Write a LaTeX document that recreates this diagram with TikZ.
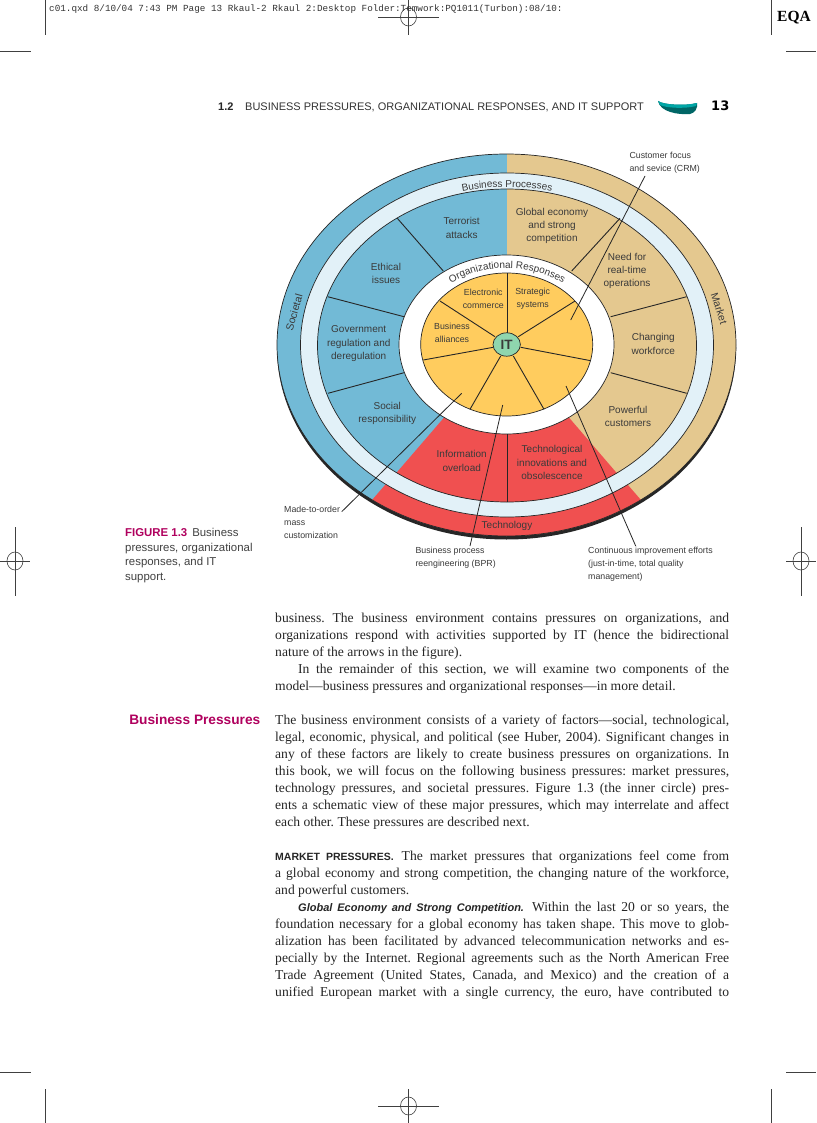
\documentclass[tikz,border=0pt]{standalone}
\usepackage{fontspec}
\setmainfont{Liberation Serif}
\setsansfont{Liberation Sans}
\setmonofont{Liberation Mono}
\newfontfamily\widefont{DejaVu Sans}
\usetikzlibrary{decorations.text,shapes.geometric}
\definecolor{cblue}{HTML}{72BAD6}
\definecolor{ctan}{HTML}{E4C88F}
\definecolor{cred}{HTML}{F05050}
\definecolor{cyel}{HTML}{FFCC5E}
\definecolor{cband}{HTML}{E2F1F8}
\definecolor{cgreen}{HTML}{8FD6AE}
\definecolor{cmag}{HTML}{B0005E}
\definecolor{ctxt}{HTML}{3A3A3A}
\definecolor{cbody}{HTML}{262626}
\newcommand{\jl}[1]{\hbox to 454pt{\frenchspacing\spaceskip=0pt\relax\xspaceskip=0pt\relax\vrule height 12pt depth 0pt width 0pt #1}\par}
\newcommand{\lastl}[1]{\hbox{\frenchspacing\spaceskip=0pt\relax\xspaceskip=0pt\relax\vrule height 12pt depth 0pt width 0pt #1}\par}
\newcommand{\regmark}[6]{% x y hx0 hx1 vy0 vy1
  \draw[regline] (#3,#2) -- (#4,#2);
  \draw[regline] (#1,#5) -- (#1,#6);
  \draw[regline] (#1,#2) ellipse [x radius=8, y radius=9];}
\tikzset{
  regline/.style={line width=0.6pt, color=black!75},
  edge/.style={line width=0.7pt, color=black!85},
  spoke/.style={line width=0.9pt, color=black!85},
  leader/.style={line width=0.8pt, color=black!85},
  seclabel/.style={font=\sffamily\fontsize{10}{13.3}\selectfont, text=ctxt, align=center, inner sep=0, yshift=-1pt},
  innerlabel/.style={font=\sffamily\fontsize{8.8}{13}\selectfont, text=ctxt, align=center, inner sep=0},
  leaderlabel/.style={font=\sffamily\fontsize{8.8}{13}\selectfont, text=ctxt, align=left, anchor=west, inner sep=0, yshift=-0.5pt},
  bodytext/.style={font=\rmfamily\fontsize{13.6}{17}\selectfont, text=cbody, anchor=north west, inner sep=0, text width=454pt},
}
\begin{document}
\begin{tikzpicture}[x=1pt,y=-1pt]
\useasboundingbox (0,0) rectangle (816,1123);
\fill[white] (0,0) rectangle (816,1123);
% crop marks
\regmark{408.5}{17}{378}{439}{0}{35}
\regmark{408.5}{1106}{378}{439}{1089}{1123}
\regmark{15}{561}{0}{30}{527}{596}
\regmark{801}{561}{786}{816}{527}{596}
\draw[regline] (45,0) -- (45,35);
\draw[regline] (771,0) -- (771,35);
\draw[regline] (45,1089) -- (45,1123);
\draw[regline] (771,1089) -- (771,1123);
\draw[regline] (0,51.5) -- (31,51.5);
\draw[regline] (786,51.5) -- (816,51.5);
\draw[regline] (0,1072) -- (31,1072);
\draw[regline] (786,1072) -- (816,1072);
% slug line
\node[anchor=base west, inner sep=0, font=\ttfamily\fontsize{9.3}{11}\selectfont, text=black!80] (slug) at (49,12) {c01.qxd 8/10/04 7:43 PM Page 13 Rkaul-2 Rkaul 2:Desktop Folder:Temwork:PQ1011(Turbon):08/10:};
\node[anchor=base west, inner sep=0, font=\rmfamily\bfseries\fontsize{15.5}{18}\selectfont, text=black] (eqa) at (777,22) {EQA};
% running head
\node[anchor=base west, inner sep=0, font=\sffamily\bfseries\fontsize{11}{13}\selectfont, text=black!85] (hnum) at (218,110.5) {1.2};
\node[anchor=base west, inner sep=0, font=\sffamily\fontsize{11}{13}\selectfont, text=black!80] (hhead) at (245,110.5) {BUSINESS PRESSURES, ORGANIZATIONAL RESPONSES, AND IT SUPPORT};
\fill[teal!80!black] (658,101) .. controls (664,105) and (685,106) .. (697,103) .. controls (698,108) and (695,113) .. (690,114) .. controls (678,115) and (660,112) .. (658,101) -- cycle;
\fill[teal!70!cyan] (658,101) .. controls (664,105) and (685,106) .. (697,103) -- (696,106) .. controls (685,109) and (666,108) .. (660,105) -- cycle;
\node[anchor=base west, inner sep=0, font=\widefont\bfseries\fontsize{13}{14}\selectfont, text=black] (hpage) at (711,110.5) {13};
% ---------- wheel
\fill[black!85] (506.5,348) ellipse [x radius=229.5, y radius=191.5];
\begin{scope}
  \clip (506.5,345) ellipse [x radius=229.5, y radius=191];
  \fill[cblue] (270,140) rectangle (507,560);
  \fill[ctan] (507,140) rectangle (745,560);
  \fill[cred] (506.5,345) -- (300,583) -- (713,583) -- cycle;
\end{scope}
\draw[edge] (506.5,345) ellipse [x radius=229.5, y radius=191];
\fill[cband] (507,345) ellipse [x radius=206.5, y radius=172];
\draw[edge] (507,345) ellipse [x radius=206.5, y radius=172];
\begin{scope}
  \clip (507,345.5) ellipse [x radius=189.5, y radius=156.5];
  \fill[cblue] (300,170) rectangle (507,520);
  \fill[ctan] (507,170) rectangle (710,520);
  \fill[cred] (506.5,345) -- (330,550) -- (683,550) -- cycle;
\end{scope}
\draw[edge] (507,345.5) ellipse [x radius=189.5, y radius=156.5];
\draw[spoke] (397.3,218.3) -- (443.3,271);
\draw[spoke] (327.7,296.7) -- (404,316.7);
\draw[spoke] (328,393.3) -- (404,372.7);
\draw[spoke] (620,218.3) -- (571.7,271);
\draw[spoke] (686.7,296.7) -- (610.7,316.7);
\draw[spoke] (686.7,393.3) -- (610.7,372.7);
\draw[spoke] (507,434) -- (507,502);
\fill[white] (506.5,344.5) ellipse [x radius=107.5, y radius=89.5];
\draw[edge] (506.5,344.5) ellipse [x radius=107.5, y radius=89.5];
\fill[cyel] (506.7,344.5) ellipse [x radius=86, y radius=71.5];
\draw[edge] (506.7,344.5) ellipse [x radius=86, y radius=71.5];
\draw[spoke] (507,273) -- (507,340);
\draw[spoke] (440,301) -- (495,336.7);
\draw[spoke] (575,301) -- (518.3,336.7);
\draw[spoke] (423.3,360) -- (493.3,347.3);
\draw[spoke] (590.7,360.7) -- (520.7,347.3);
\draw[spoke] (470,409.3) -- (500.7,356);
\draw[spoke] (544,409.3) -- (513.3,356);
\node[draw=black!85, line width=0.7pt, fill=cgreen, ellipse, minimum width=27.4pt, minimum height=23.4pt, inner sep=0, font=\sffamily\bfseries\fontsize{13.5}{14}\selectfont, text=ctxt] (it) at (506.7,344.5) {IT};
% leaders
\coordinate (crmA) at (645,176);
\coordinate (crmB) at (570.7,320);
\coordinate (mtoA) at (341.7,511.7);
\coordinate (mtoB) at (461.7,393.3);
\coordinate (bprA) at (470,546);
\coordinate (bprB) at (502.7,405);
\coordinate (ciA) at (635.7,546);
\coordinate (ciB) at (566,386);
\draw[leader] (crmA) -- (crmB);
\draw[leader] (mtoA) -- (mtoB);
\draw[leader] (bprA) -- (bprB);
\draw[leader] (ciA) -- (ciB);
% curved titles
\path[decorate, decoration={text along path, text align=center, text={|\sffamily\fontsize{10}{12}\selectfont\color{ctxt}|Business Processes}}]
  plot[domain=108:72, samples=30] ({507+193*cos(\x)},{345-158*sin(\x)});
\path[decorate, decoration={text along path, text align=center, text={|\sffamily\fontsize{10}{12}\selectfont\color{ctxt}|Organizational Responses}}]
  plot[domain=135:45, samples=40] ({507+93.5*cos(\x)},{344.5-76.5*sin(\x)});
\node[seclabel, font=\sffamily\fontsize{10.5}{13}\selectfont, rotate=74, yshift=1pt] (soc) at (295,311.7) {Societal};
\node[seclabel, font=\sffamily\fontsize{10.5}{13}\selectfont, rotate=-72, yshift=1pt] (mkt) at (718.3,308) {Market};
\node[seclabel] (tech) at (507,524.5) {Technology};
% sector labels
\node[seclabel] (terr) at (461.7,227) {Terrorist\\attacks};
\node[seclabel] (eth) at (386,272.7) {Ethical\\issues};
\node[seclabel] (gov) at (358.7,342.7) {Government\\regulation and\\deregulation};
\node[seclabel] (socr) at (387.3,412.7) {Social\\responsibility};
\node[seclabel] (glob) at (552,225) {Global economy\\and strong\\competition};
\node[seclabel] (need) at (627,270) {Need for\\real-time\\operations};
\node[seclabel] (chg) at (653.3,343) {Changing\\workforce};
\node[seclabel] (pow) at (628,415.3) {Powerful\\customers};
\node[seclabel] (info) at (461.7,460) {Information\\overload};
\node[seclabel] (techi) at (552,461.7) {Technological\\innovations and\\obsolescence};
\node[innerlabel] (ec) at (483.3,298.7) {Electronic\\commerce};
\node[innerlabel] (ss) at (532.7,299) {Strategic\\systems};
\node[innerlabel] (ba) at (452,332.7) {Business\\alliances};
% leader labels
\node[leaderlabel] (crm) at (629.3,162.5) {Customer focus\\and sevice (CRM)};
\node[leaderlabel] (mto) at (284,522) {Made-to-order\\mass\\customization};
\node[leaderlabel] (bpr) at (415.3,557.5) {Business process\\reengineering (BPR)};
\node[leaderlabel] (ci) at (588,564) {Continuous improvement efforts\\(just-in-time, total quality\\management)};
% caption
\node[anchor=north west, inner sep=0, align=left, font=\sffamily\fontsize{11.4}{14.4}\selectfont, text=black!75] (cap) at (125,528.5)
 {{\bfseries\color{cmag}FIGURE 1.3}\hspace{5pt}Business\\pressures, organizational\\responses, and IT\\support.};
\node[anchor=base east, inner sep=0, font=\sffamily\bfseries\fontsize{13.7}{17}\selectfont, text=cmag] (bp) at (260.5,724) {Business Pressures};
% body
\node[bodytext] (p1) at (275,610) {%
\jl{business. The business environment contains pressures on organizations, and}
\jl{organizations respond with activities supported by IT (hence the bidirectional}
\lastl{nature of the arrows in the figure).}
\jl{\hspace*{23pt}In the remainder of this section, we will examine two components of the}
\lastl{model—business pressures and organizational responses—in more detail.}};
\node[bodytext] (p2) at (275,712) {%
\jl{The business environment consists of a variety of factors—social, technological,}
\jl{legal, economic, physical, and political (see Huber, 2004). Significant changes in}
\jl{any of these factors are likely to create business pressures on organizations. In}
\jl{this book, we will focus on the following business pressures: market pressures,}
\jl{technology pressures, and societal pressures. Figure 1.3 (the inner circle) pres-}
\jl{ents a schematic view of these major pressures, which may interrelate and affect}
\lastl{each other. These pressures are described next.}};
\node[bodytext] (p3) at (275,848) {%
\jl{{\sffamily\bfseries\fontsize{10.5}{17}\selectfont MARKET PRESSURES.}\hspace{8pt}The market pressures that organizations feel come from}
\jl{a global economy and strong competition, the changing nature of the workforce,}
\lastl{and powerful customers.}
\jl{\hspace*{23pt}{\sffamily\bfseries\itshape\fontsize{11}{17}\selectfont Global Economy and Strong Competition.}\hspace{8pt}Within the last 20 or so years, the}
\jl{foundation necessary for a global economy has taken shape. This move to glob-}
\jl{alization has been facilitated by advanced telecommunication networks and es-}
\jl{pecially by the Internet. Regional agreements such as the North American Free}
\jl{Trade Agreement (United States, Canada, and Mexico) and the creation of a}
\jl{unified European market with a single currency, the euro, have contributed to}};
\end{tikzpicture}
\end{document}
